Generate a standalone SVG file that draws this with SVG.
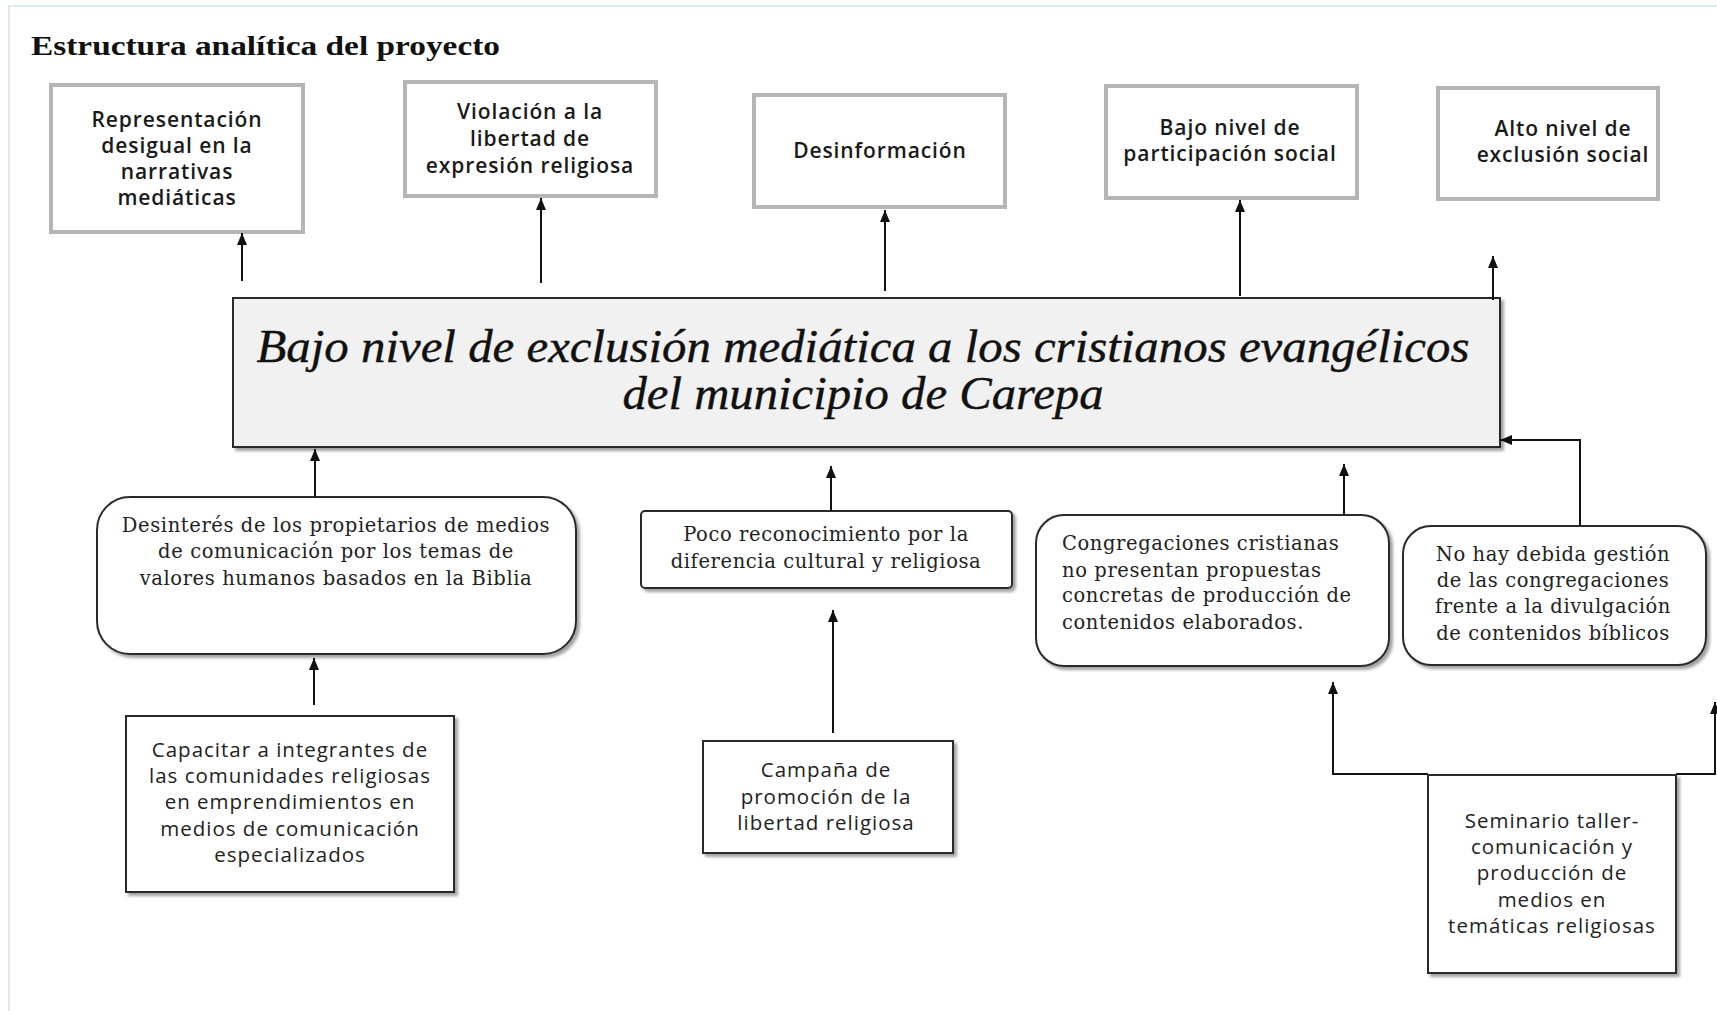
<svg xmlns="http://www.w3.org/2000/svg" width="1717" height="1011" viewBox="0 0 1717 1011">
<style>
.page{fill:none;stroke:#dce8f3;stroke-width:2}
.gbox{fill:#fff;stroke:#b5b5b5;stroke-width:4}
.bbox{fill:#fff;stroke:#2a2a2a;stroke-width:2}
.main{fill:#f1f1f1;stroke:#2a2a2a;stroke-width:2}
.tb{font-family:"Open Sans",Lato,"Liberation Sans",sans-serif;font-size:21px;font-weight:600;fill:#1a1a1a;text-anchor:middle;letter-spacing:0.9px}
.sn{font-family:"Open Sans",Lato,"Liberation Sans",sans-serif;font-size:20.5px;fill:#222;text-anchor:middle;letter-spacing:1px}
.sr{font-family:"DejaVu Serif","Liberation Serif",serif;font-size:19.5px;fill:#222;text-anchor:middle;letter-spacing:0.6px}
.srl{font-family:"DejaVu Serif","Liberation Serif",serif;font-size:19.5px;fill:#222;letter-spacing:0.6px}
.title{font-family:"Liberation Serif",serif;font-size:28px;font-weight:bold;fill:#111}
.big{font-family:"Liberation Serif",serif;font-size:47px;font-style:italic;fill:#111;stroke:#111;stroke-width:0.4;text-anchor:middle}
.conn{fill:none;stroke:#111;stroke-width:2}
</style>
<defs>
<marker id="ah" markerUnits="userSpaceOnUse" markerWidth="12" markerHeight="10" refX="12" refY="5" orient="auto" viewBox="0 0 12 10">
<path d="M0,0 L12,5 L0,10 z" fill="#111"/>
</marker>
<filter id="sh" x="-5%" y="-5%" width="115%" height="120%">
<feDropShadow dx="3" dy="3" stdDeviation="1.5" flood-color="#666" flood-opacity="0.6"/>
</filter>
</defs>
<path class="page" d="M9,1011 V6 H1717"/>
<text class="title" x="31" y="55" textLength="469" lengthAdjust="spacingAndGlyphs">Estructura analítica del proyecto</text>

<g id="n-representacion">
<rect class="gbox" x="51" y="85" width="252" height="147"/>
<text class="tb" x="177" y="127">Representación</text>
<text class="tb" x="177" y="153">desigual en la</text>
<text class="tb" x="177" y="179">narrativas</text>
<text class="tb" x="177" y="205">mediáticas</text>
</g>
<g id="n-violacion">
<rect class="gbox" x="405" y="82" width="251" height="114"/>
<text class="tb" x="530" y="119">Violación a la</text>
<text class="tb" x="530" y="146">libertad de</text>
<text class="tb" x="530" y="173">expresión religiosa</text>
</g>
<g id="n-desinformacion">
<rect class="gbox" x="754" y="95" width="251" height="112"/>
<text class="tb" x="880" y="158">Desinformación</text>
</g>
<g id="n-participacion">
<rect class="gbox" x="1106" y="86" width="251" height="112"/>
<text class="tb" x="1230" y="135">Bajo nivel de</text>
<text class="tb" x="1230" y="161">participación social</text>
</g>
<g id="n-exclusion">
<rect class="gbox" x="1438" y="88" width="220" height="111"/>
<text class="tb" x="1563" y="136">Alto nivel de</text>
<text class="tb" x="1563" y="162">exclusión social</text>
</g>

<g id="n-main">
<rect class="main" x="233" y="298" width="1267" height="149" filter="url(#sh)"/>
<text class="big" x="863" y="362" textLength="1213" lengthAdjust="spacingAndGlyphs">Bajo nivel de exclusión mediática a los cristianos evangélicos</text>
<text class="big" x="863" y="409" textLength="481" lengthAdjust="spacingAndGlyphs">del municipio de Carepa</text>
</g>

<g id="n-desinteres">
<rect class="bbox" x="97" y="497" width="479" height="157" rx="33" filter="url(#sh)"/>
<text class="sr" x="336" y="532">Desinterés de los propietarios de medios</text>
<text class="sr" x="336" y="558">de comunicación por  los temas de</text>
<text class="sr" x="336" y="585">valores humanos basados en la Biblia</text>
</g>
<g id="n-capacitar">
<rect class="bbox" x="126" y="716" width="328" height="176" filter="url(#sh)"/>
<text class="sn" x="290" y="757">Capacitar a integrantes de</text>
<text class="sn" x="290" y="783">las comunidades religiosas</text>
<text class="sn" x="290" y="809">en  emprendimientos en</text>
<text class="sn" x="290" y="836">medios de comunicación</text>
<text class="sn" x="290" y="862">especializados</text>
</g>
<g id="n-poco">
<rect class="bbox" x="641" y="511" width="371" height="77" rx="4" filter="url(#sh)"/>
<text class="sr" x="826" y="541">Poco reconocimiento por la</text>
<text class="sr" x="826" y="568">diferencia cultural y religiosa</text>
</g>
<g id="n-campana">
<rect class="bbox" x="703" y="741" width="250" height="112" filter="url(#sh)"/>
<text class="sn" x="826" y="777">Campaña de</text>
<text class="sn" x="826" y="804">promoción de la</text>
<text class="sn" x="826" y="830">libertad religiosa</text>
</g>
<g id="n-congregaciones">
<rect class="bbox" x="1036" y="515" width="353" height="151" rx="28" filter="url(#sh)"/>
<text class="srl" x="1062" y="550">Congregaciones cristianas</text>
<text class="srl" x="1062" y="577">no presentan propuestas</text>
<text class="srl" x="1062" y="602">concretas de producción de</text>
<text class="srl" x="1062" y="629">contenidos elaborados.</text>
</g>
<g id="n-nohay">
<rect class="bbox" x="1403" y="526" width="303" height="139" rx="28" filter="url(#sh)"/>
<text class="sr" x="1553" y="561">No hay debida  gestión</text>
<text class="sr" x="1553" y="587">de las congregaciones</text>
<text class="sr" x="1553" y="613">frente a la divulgación</text>
<text class="sr" x="1553" y="640">de contenidos bíblicos</text>
</g>
<g id="n-seminario">
<rect class="bbox" x="1428" y="775" width="248" height="198" filter="url(#sh)"/>
<text class="sn" x="1552" y="828">Seminario taller-</text>
<text class="sn" x="1552" y="854">comunicación y</text>
<text class="sn" x="1552" y="880">producción de</text>
<text class="sn" x="1552" y="907">medios en</text>
<text class="sn" x="1552" y="933">temáticas religiosas</text>
</g>

<g id="connectors">
<path class="conn" d="M242,281 V233" marker-end="url(#ah)"/>
<path class="conn" d="M541,283 V198" marker-end="url(#ah)"/>
<path class="conn" d="M885,291 V210" marker-end="url(#ah)"/>
<path class="conn" d="M1240,296 V200" marker-end="url(#ah)"/>
<path class="conn" d="M1493,300 V256" marker-end="url(#ah)"/>
<path class="conn" d="M315,497 V449" marker-end="url(#ah)"/>
<path class="conn" d="M314,705 V658" marker-end="url(#ah)"/>
<path class="conn" d="M831,511 V466" marker-end="url(#ah)"/>
<path class="conn" d="M833,733 V610" marker-end="url(#ah)"/>
<path class="conn" d="M1344,515 V464" marker-end="url(#ah)"/>
<path class="conn" d="M1580,526 V440 H1500" marker-end="url(#ah)"/>
<path class="conn" d="M1428,774 H1333 V682" marker-end="url(#ah)"/>
<path class="conn" d="M1676,774 H1715 V702" marker-end="url(#ah)"/>
</g>
</svg>
